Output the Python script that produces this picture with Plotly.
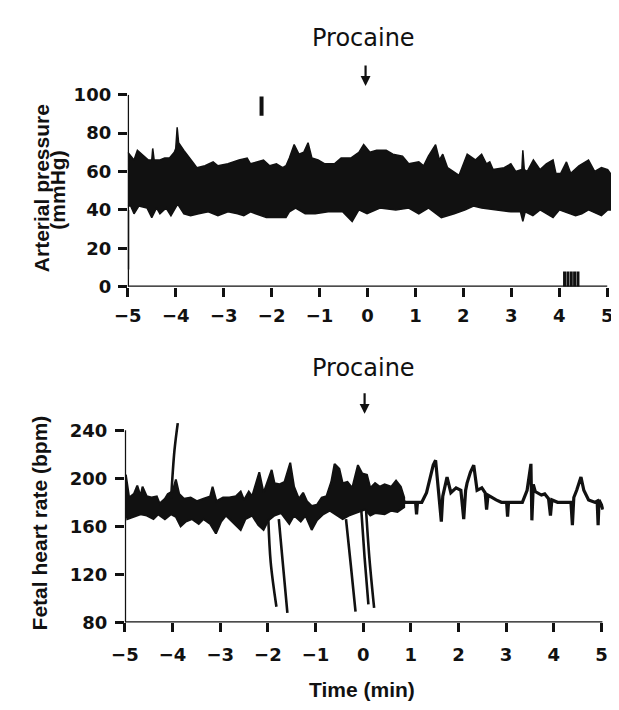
import plotly.graph_objects as go

# ---------------- data ----------------
time_ticks = [-5, -4, -3, -2, -1, 0, 1, 2, 3, 4, 5]
ap_ticks = [0, 20, 40, 60, 80, 100]
fhr_ticks = [80, 120, 160, 200, 240]

# Arterial pressure: upper envelope of the pulsatile trace (time min, mmHg)
ap_up_t = [-5.00, -4.87, -4.80, -4.70, -4.57, -4.50, -4.48, -4.45, -4.43, -4.33, -4.23, -4.13, -4.03,
           -4.00, -3.97, -3.94, -3.83, -3.72, -3.62, -3.56, -3.39, -3.22, -3.12, -2.91, -2.68,
           -2.51, -2.44, -2.17, -2.04, -1.90, -1.77, -1.70, -1.63, -1.53, -1.43, -1.33, -1.24,
           -1.16, -1.03, -0.89, -0.69, -0.55, -0.35, -0.18, -0.08, 0.05, 0.19, 0.39, 0.53,
           0.73, 0.86, 1.07, 1.17, 1.27, 1.42, 1.50, 1.57, 1.67, 1.78, 1.91, 2.08, 2.25, 2.38,
           2.48, 2.55, 2.62, 2.85, 2.99, 3.09, 3.22, 3.24, 3.27, 3.33, 3.46, 3.60, 3.73, 3.87,
           3.93, 4.03, 4.15, 4.24, 4.41, 4.61, 4.74, 4.88, 5.01, 5.12]
ap_up_v = [70, 66, 71, 69, 66, 66, 72, 66, 66, 66, 67, 67, 70,
           72, 83, 75, 71, 67, 64, 62, 63, 65, 63, 64, 66,
           67, 64, 66, 63, 64, 62, 63, 67, 74, 69, 70, 75,
           67, 66, 64, 64, 67, 67, 70, 74, 70, 71, 71, 69,
           68, 64, 65, 63, 68, 74, 66, 69, 62, 60, 58, 69, 66, 69,
           64, 65, 61, 62, 64, 60, 61, 71, 61, 60, 66, 61, 64, 66,
           59, 59, 65, 59, 63, 66, 60, 62, 61, 57]

# Arterial pressure: lower envelope
ap_lo_t = [-5.00, -4.94, -4.87, -4.77, -4.60, -4.50, -4.40, -4.33, -4.20, -4.10, -3.96, -3.83,
           -3.69, -3.52, -3.32, -3.12, -2.91, -2.71, -2.58, -2.44, -2.11, -1.90, -1.70, -1.63,
           -1.50, -1.30, -1.09, -0.82, -0.52, -0.32, -0.18, -0.01, 0.26, 0.59, 0.86, 1.07,
           1.27, 1.54, 1.81, 2.04, 2.21, 2.38, 2.65, 2.99, 3.19, 3.24, 3.29, 3.45, 3.60, 3.87,
           4.00, 4.34, 4.47, 4.61, 4.88, 5.01, 5.12]
ap_lo_v = [42, 42, 38, 42, 41, 36, 41, 38, 41, 37, 43, 38,
           37, 38, 39, 37, 39, 38, 37, 39, 36, 36, 36, 39,
           41, 38, 38, 39, 39, 34, 40, 38, 41, 40, 41, 38,
           41, 36, 38, 40, 42, 41, 40, 39, 39, 34, 39, 37, 40, 36,
           40, 37, 38, 40, 37, 40, 40]

# start of the pressure trace at the left edge
ap_start_t = [-4.99, -4.99]
ap_start_v = [40, 9]
# calibration mark near -2.2 min
ap_mark_t = [-2.21, -2.21]
ap_mark_v = [89, 99]
# small comb of marks near 4.1-4.4 min
ap_comb_t = [4.11, 4.18, 4.25, 4.32, 4.39]
ap_comb_lo = 0
ap_comb_hi = 8

# Fetal heart rate: band (beat-to-beat variability) from -5 to 0.86 min
fhr_up_t = [-4.98, -4.91, -4.81, -4.74, -4.67, -4.63, -4.54, -4.44, -4.33, -4.27, -4.16, -4.10,
            -4.00, -3.93, -3.86, -3.76, -3.62, -3.49, -3.35, -3.21, -3.16, -3.08, -2.94, -2.81,
            -2.67, -2.57, -2.50, -2.40, -2.33, -2.23, -2.18, -2.09, -1.99, -1.92, -1.86, -1.76,
            -1.65, -1.53, -1.45, -1.35, -1.26, -1.18, -1.08, -0.97, -0.87, -0.77, -0.67, -0.60,
            -0.50, -0.43, -0.33, -0.23, -0.11, -0.02, 0.08, 0.15, 0.25, 0.35, 0.45, 0.59, 0.69,
            0.79, 0.86]
fhr_up_v = [203, 184, 187, 194, 185, 193, 185, 184, 185, 179, 183, 187,
            189, 199, 187, 183, 184, 181, 183, 185, 193, 181, 184, 184,
            185, 189, 182, 189, 185, 197, 205, 188, 199, 207, 196, 195,
            197, 213, 193, 183, 188, 181, 177, 178, 184, 185, 197, 212,
            208, 196, 197, 192, 211, 204, 203, 192, 196, 193, 195, 193, 198,
            193, 184]
fhr_lo_t = [-4.98, -4.95, -4.81, -4.67, -4.54, -4.40, -4.30, -4.16, -4.03, -3.93, -3.83, -3.72,
            -3.59, -3.45, -3.35, -3.21, -3.09, -2.98, -2.88, -2.74, -2.57, -2.47, -2.33, -2.20,
            -2.09, -1.99, -1.86, -1.72, -1.55, -1.45, -1.31, -1.21, -1.08, -0.97, -0.84, -0.70,
            -0.57, -0.43, -0.30, -0.16, 0.04, 0.15, 0.25, 0.45, 0.59, 0.72, 0.86]
fhr_lo_v = [175, 166, 168, 170, 169, 166, 170, 166, 170, 168, 160, 164,
            166, 162, 166, 162, 154, 164, 169, 164, 157, 166, 169, 161,
            157, 165, 169, 171, 162, 169, 164, 169, 157, 165, 170, 173,
            170, 166, 169, 171, 174, 169, 171, 170, 173, 172, 176]

# Fetal heart rate: single trace after 0.8 min
fhr_t = [0.80, 0.89, 1.10, 1.12, 1.14, 1.23, 1.33, 1.40, 1.47, 1.52, 1.56, 1.61, 1.64, 1.67, 1.71,
         1.76, 1.84, 1.95, 2.05, 2.11, 2.15, 2.18, 2.25, 2.32, 2.39, 2.49, 2.56, 2.59, 2.62, 2.66,
         2.79, 2.90, 3.01, 3.03, 3.05, 3.13, 3.34, 3.44, 3.52, 3.54, 3.57, 3.61, 3.74, 3.81, 3.89,
         3.93, 3.96, 4.08, 4.22, 4.36, 4.39, 4.42, 4.48, 4.53, 4.57, 4.63, 4.73, 4.86, 4.91, 4.93,
         4.95, 5.00, 5.03]
fhr_v = [182, 180, 180, 170, 180, 180, 188, 201, 211, 215, 196, 177, 164, 185, 193,
         201, 188, 192, 190, 166, 190, 196, 205, 211, 190, 192, 188, 174, 186, 185,
         182, 180, 180, 168, 180, 180, 180, 190, 212, 165, 195, 189, 186, 187, 183,
         169, 182, 180, 180, 180, 161, 184, 190, 196, 201, 190, 182, 180, 181, 161,
         182, 178, 174]

# Artefact excursions of the heart-rate trace (each: time, bpm)
fhr_exc_up_t = [-4.03, -3.96, -3.89]
fhr_exc_up_v = [183, 223, 246]
fhr_drop1_t = [-1.99, -1.94, -1.82]
fhr_drop1_v = [166, 130, 93]
fhr_drop2_t = [-1.77, -1.69, -1.59]
fhr_drop2_v = [166, 131, 88]
fhr_drop3_t = [-0.36, -0.26, -0.16]
fhr_drop3_v = [166, 128, 89]
fhr_drop4_t = [-0.04, 0.03, 0.11]
fhr_drop4_v = [174, 134, 95]
fhr_drop5_t = [0.06, 0.13, 0.23]
fhr_drop5_v = [174, 134, 92]

# ---------------- figure ----------------
OFF = 8                      # page body margin of the browser
W, H = 619 - OFF, 710 - OFF  # figure size so that it ends at the window edge


def px(xp):
    return (xp - OFF) / W


def py(yp):
    return 1 - (yp - OFF) / H


BLACK = "#111111"
fig = go.Figure()

# top band
fig.add_trace(go.Scatter(x=ap_up_t + ap_lo_t[::-1], y=ap_up_v + ap_lo_v[::-1],
                         fill="toself", fillcolor=BLACK, mode="lines",
                         line=dict(color=BLACK, width=1.5), xaxis="x", yaxis="y",
                         hoverinfo="skip", showlegend=False))
fig.add_trace(go.Scatter(x=ap_start_t, y=ap_start_v, mode="lines",
                         line=dict(color=BLACK, width=2), xaxis="x", yaxis="y", showlegend=False))
fig.add_trace(go.Scatter(x=ap_mark_t, y=ap_mark_v, mode="lines",
                         line=dict(color=BLACK, width=4), xaxis="x", yaxis="y", showlegend=False))
comb_x, comb_y = [], []
for t in ap_comb_t:
    comb_x += [t, t, None]
    comb_y += [ap_comb_lo, ap_comb_hi, None]
fig.add_trace(go.Scatter(x=comb_x, y=comb_y, mode="lines",
                         line=dict(color=BLACK, width=3), xaxis="x", yaxis="y", showlegend=False))

# bottom band + trace
fig.add_trace(go.Scatter(x=fhr_up_t + fhr_lo_t[::-1], y=fhr_up_v + fhr_lo_v[::-1],
                         fill="toself", fillcolor=BLACK, mode="lines",
                         line=dict(color=BLACK, width=2), xaxis="x2", yaxis="y2",
                         hoverinfo="skip", showlegend=False))
fig.add_trace(go.Scatter(x=fhr_t, y=fhr_v, mode="lines",
                         line=dict(color=BLACK, width=3.2), xaxis="x2", yaxis="y2", showlegend=False))
for tx, vy in [(fhr_exc_up_t, fhr_exc_up_v), (fhr_drop1_t, fhr_drop1_v), (fhr_drop2_t, fhr_drop2_v),
               (fhr_drop3_t, fhr_drop3_v), (fhr_drop4_t, fhr_drop4_v), (fhr_drop5_t, fhr_drop5_v)]:
    fig.add_trace(go.Scatter(x=tx, y=vy, mode="lines", line=dict(color=BLACK, width=2.6, shape="spline"),
                             xaxis="x2", yaxis="y2", showlegend=False))

tickfont = dict(family="DejaVu Sans", size=18, color=BLACK, weight="bold")
common = dict(showgrid=False, zeroline=False, showline=False, ticks="outside",
              ticklen=9, tickwidth=2.5, tickcolor=BLACK, tickfont=tickfont)

fig.update_layout(
    width=W, height=H, margin=dict(l=0, r=0, t=0, b=0),
    paper_bgcolor="white", plot_bgcolor="white", showlegend=False,
    xaxis=dict(domain=[px(117), px(617.4)], range=[-5, 5.13], tickvals=time_ticks,
               anchor="y", ticklabelstandoff=4, **common),
    yaxis=dict(domain=[py(284), py(86)], range=[0, 100], tickvals=ap_ticks,
               anchor="x", ticklabelstandoff=3, **common),
    xaxis2=dict(domain=[px(114), px(607.5)], range=[-5, 5.05], tickvals=time_ticks,
                anchor="y2", ticklabelstandoff=7, **common),
    yaxis2=dict(domain=[py(630), py(423.3)], range=[80, 247], tickvals=fhr_ticks,
                anchor="x2", ticklabelstandoff=4, **common),
)

axis_line = dict(color=BLACK, width=2.5)
fig.add_shape(type="line", xref="x", yref="y", x0=-5, x1=-5, y0=0, y1=100, line=axis_line)
fig.add_shape(type="line", xref="x", yref="y", x0=-5, x1=5, y0=0, y1=0, line=axis_line)
fig.add_shape(type="line", xref="x2", yref="y2", x0=-5, x1=-5, y0=80, y1=240, line=axis_line)
fig.add_shape(type="line", xref="x2", yref="y2", x0=-5, x1=5.02, y0=80, y1=80, line=axis_line)

label_font = dict(family="Liberation Sans", size=21, color=BLACK, weight="bold")
proc_font = dict(family="DejaVu Sans", size=24, color=BLACK)
ann = [
    dict(text="Procaine", x=px(360), y=py(28), font=proc_font),
    dict(text="Procaine", x=px(360), y=py(368), font=proc_font),
    dict(text="Arterial pressure", x=px(28), y=py(182), textangle=-90, font=label_font),
    dict(text="(mmHg)", x=px(45), y=py(184), textangle=-90, font=label_font),
    dict(text="Fetal heart rate (bpm)", x=px(27), y=py(527.5), textangle=-90, font=label_font),
    dict(text="Time (min)", x=px(358), y=py(699), font=label_font),
]
for a in ann:
    fig.add_annotation(xref="paper", yref="paper", showarrow=False,
                       xanchor="center", yanchor="middle", **a)

for xa, ya in [(px(362), py(77)), (px(361), py(415))]:
    fig.add_annotation(xref="paper", yref="paper", x=xa, y=ya, text="", showarrow=True,
                       ax=0, ay=-22, arrowhead=2, arrowsize=0.9, arrowwidth=2.2, arrowcolor=BLACK)

fig.write_html("out.html")
